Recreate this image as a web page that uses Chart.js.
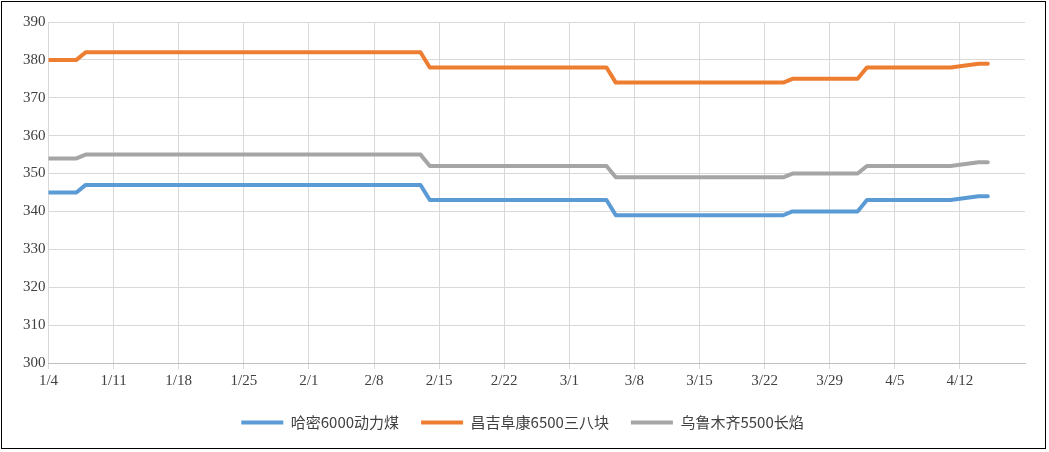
<!DOCTYPE html>
<html><head><meta charset="utf-8">
<script src="https://cdn.jsdelivr.net/npm/chart.js@4/dist/chart.umd.min.js"></script>
<style>
html,body{margin:0;padding:0;background:#fff;}
#box{position:absolute;left:1px;top:1px;width:1045px;height:448px;border:1px solid #000;box-sizing:border-box;}
canvas{display:block;}
</style></head>
<body><div id="box"><canvas id="c"></canvas></div>
<script>
// x tick labels, one every 7 days starting 1/4
const tickLabels = ['1/4','1/11','1/18','1/25','2/1','2/8','2/15','2/22','3/1','3/8','3/15','3/22','3/29','4/5','4/12'];
// day offsets (from 1/4) where prices were observed / changed
const days = [0, 3, 4, 40, 41, 60, 61, 79, 80, 87, 88, 97, 100, 101];
const hamiValues   = [345,345,347,347,343,343,339,339,340,340,343,343,344,344];
const changjiValues= [380,380,382,382,378,378,374,374,375,375,378,378,379,379];
const urumqiValues = [354,354,355,355,352,352,349,349,350,350,352,352,353,353];
const seriesNames = ['哈密6000动力煤','昌吉阜康6500三八块','乌鲁木齐5500长焰'];

const pts = v => days.map((d,i)=>({x:d,y:v[i]}));
const font = {family:"'Liberation Serif','Noto Sans CJK SC',serif", size:15};

new Chart(document.getElementById('c'), {
  type:'line',
  data:{datasets:[
    {label:seriesNames[0],data:pts(hamiValues),borderColor:'#5B9BD5',backgroundColor:'#5B9BD5'},
    {label:seriesNames[1],data:pts(changjiValues),borderColor:'#ED7D31',backgroundColor:'#ED7D31'},
    {label:seriesNames[2],data:pts(urumqiValues),borderColor:'#A5A5A5',backgroundColor:'#A5A5A5'}
  ]},
  options:{
    responsive:true, maintainAspectRatio:false, animation:false,
    layout:{padding:{top:20,right:20,left:18,bottom:8}},
    elements:{line:{borderWidth:4,tension:0,borderCapStyle:'round',borderJoinStyle:'round'},point:{radius:0}},
    plugins:{
      legend:{position:'bottom',labels:{font:{family:"'Noto Sans CJK SC',serif",size:15},color:'#404040',boxWidth:42,boxHeight:0,padding:22,
        generateLabels:ch=>ch.data.datasets.map((d,i)=>({text:d.label,strokeStyle:d.borderColor,fillStyle:d.borderColor,lineWidth:4,datasetIndex:i,fontColor:'#404040'}))}},
      tooltip:{enabled:false}
    },
    scales:{
      x:{type:'linear',min:0,max:105,
        ticks:{stepSize:7,autoSkip:false,maxRotation:0,font:font,color:'#404040',callback:(v)=>tickLabels[v/7]},
        grid:{color:'#D9D9D9',drawTicks:true,tickLength:6},border:{color:'#BFBFBF'}},
      y:{min:300,max:390,
        ticks:{stepSize:10,font:font,color:'#404040'},
        grid:{color:'#D9D9D9',drawTicks:false},border:{display:false}}
    }
  }
});
</script>
</body></html>
